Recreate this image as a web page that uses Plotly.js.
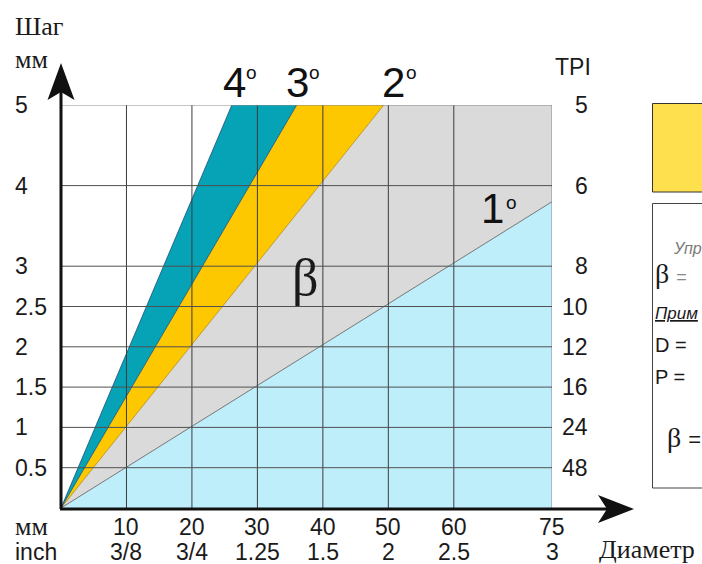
<!DOCTYPE html>
<html>
<head>
<meta charset="utf-8">
<script src="https://cdn.plot.ly/plotly-3.0.1.min.js"></script>
<style>html,body{margin:0;padding:0;background:#fff;}#chart{width:702px;height:564px;}</style>
</head>
<body>
<div id="chart"></div>
<script>
// ---- data ----
const xTicks = [10, 20, 30, 40, 50, 60, 75];            // diameter, mm
const xTickInch = ['3/8', '3/4', '1.25', '1.5', '2', '2.5', '3'];
const yTicks = [0.5, 1, 1.5, 2, 2.5, 3, 4, 5];           // pitch, mm
const tpiLabels = ['48', '24', '16', '12', '10', '8', '6', '5'];
const angleNames = ['1', '2', '3', '4'];                 // helix angle, degrees
const angleEndD = [75, 49.3, 36.0, 26.1];                // end of each angle line, mm
const angleEndP = [3.8, 5, 5, 5];                        // end of each angle line, mm
const xMax = 75, yMax = 5;

// ---- geometry helpers (plot area in px) ----
const L = 61, R = 552, T = 105, B = 508;
const W = R - L, H = B - T;
const px = p => (p - L) / W;   // pixel x -> paper
const py = p => (B - p) / H;   // pixel y -> paper

const SANS = 'Liberation Sans, Arial, sans-serif';
const SERIF = 'Liberation Serif, Times New Roman, serif';

// ---- region fills ----
const regions = [
  {name: 'blue',   color: '#bfeefb', x: [0, angleEndD[0], xMax, 0], y: [0, angleEndP[0], 0, 0]},
  {name: 'gray',   color: '#dadada', x: [0, angleEndD[0], xMax, angleEndD[1], 0], y: [0, angleEndP[0], yMax, angleEndP[1], 0]},
  {name: 'yellow', color: '#fdc800', x: [0, angleEndD[1], angleEndD[2], 0], y: [0, angleEndP[1], angleEndP[2], 0]},
  {name: 'teal',   color: '#06a3b6', x: [0, angleEndD[2], angleEndD[3], 0], y: [0, angleEndP[2], angleEndP[3], 0]}
];
const traces = regions.map(r => ({
  type: 'scatter', mode: 'lines', x: r.x, y: r.y, fill: 'toself',
  fillcolor: r.color, line: {width: 0}, hoverinfo: 'skip', showlegend: false
}));
const edgeColors = ['#5a5a5a', '#b08a20', '#1d4f7a', '#1d4f7a'];
angleNames.forEach((a, i) => {
  traces.push({type: 'scatter', mode: 'lines', x: [0, angleEndD[i]], y: [0, angleEndP[i]],
    line: {color: edgeColors[i], width: 0.8}, hoverinfo: 'skip', showlegend: false});
});

// ---- shapes: grid (above fills), axes, arrows, side panel ----
const shapes = [];
xTicks.forEach(v => shapes.push({type: 'line', layer: 'above', xref: 'x', yref: 'y',
  x0: v, x1: v, y0: 0, y1: yMax, line: {color: v === xMax ? '#8a8a8a' : '#3c3c3c', width: 1}}));
yTicks.forEach(v => shapes.push({type: 'line', layer: 'above', xref: 'x', yref: 'y',
  x0: 0, x1: xMax, y0: v, y1: v, line: {color: v === yMax ? '#8a8a8a' : '#505050', width: 1}}));
// axis lines
shapes.push({type: 'line', layer: 'above', xref: 'paper', yref: 'paper', x0: 0, x1: 0, y0: py(B + 1), y1: py(92), line: {color: '#111', width: 3}});
shapes.push({type: 'line', layer: 'above', xref: 'paper', yref: 'paper', x0: px(L - 1), x1: px(608), y0: py(B + 1), y1: py(B + 1), line: {color: '#111', width: 3}});
// arrow heads
shapes.push({type: 'path', layer: 'above', xref: 'paper', yref: 'paper', xsizemode: 'pixel', ysizemode: 'pixel',
  xanchor: 0, yanchor: py(63), path: 'M0,0 L13.5,-37 L0,-29 L-13.5,-37 Z', fillcolor: '#111', line: {width: 0}});
shapes.push({type: 'path', layer: 'above', xref: 'paper', yref: 'paper', xsizemode: 'pixel', ysizemode: 'pixel',
  xanchor: px(634), yanchor: py(B + 1), path: 'M0,0 L-36,14 L-27,0 L-36,-14 Z', fillcolor: '#111', line: {width: 0}});
// side panel boxes
shapes.push({type: 'rect', xref: 'paper', yref: 'paper', x0: px(652.5), x1: px(720), y0: py(192), y1: py(103.5),
  fillcolor: '#fee04e', line: {color: '#333', width: 1}});
shapes.push({type: 'rect', xref: 'paper', yref: 'paper', x0: px(652.5), x1: px(720), y0: py(488), y1: py(203.5),
  fillcolor: '#ffffff', line: {color: '#444', width: 1}});

// ---- annotations ----
const ann = [];
function txt(text, x, y, opts) {
  ann.push(Object.assign({text: text, x: x, y: y, xref: 'paper', yref: 'paper', showarrow: false,
    xanchor: 'center', yanchor: 'middle', font: {family: SANS, size: 23, color: '#1a1a1a'}}, opts || {}));
}
// left tick labels (pitch, mm)
yTicks.forEach(v => txt(String(v), px(13), v, {yref: 'y', xanchor: 'left'}));
// right tick labels (TPI)
yTicks.forEach((v, i) => txt(tpiLabels[i], px(590), v, {yref: 'y', xanchor: 'right'}));
// bottom tick labels
xTicks.forEach((v, i) => {
  txt(String(v), v, py(527), {xref: 'x'});
  txt(xTickInch[i], v, py(552), {xref: 'x'});
});
// axis titles
txt('Шаг', px(13), py(26), {xanchor: 'left', font: {family: SERIF, size: 26, color: '#1a1a1a'}});
txt('мм', px(13), py(59), {xanchor: 'left', font: {family: SERIF, size: 26, color: '#1a1a1a'}});
txt('мм', px(13), py(526), {xanchor: 'left', font: {family: SERIF, size: 26, color: '#1a1a1a'}});
txt('inch', px(13), py(552), {xanchor: 'left'});
txt('Диаметр', px(597), py(549), {xanchor: 'left', font: {family: SERIF, size: 26, color: '#1a1a1a'}});
txt('TPI', px(573), py(67));
// angle labels
const degPos = [[492, 208, 511, 202], [393, 82, 411, 73], [297, 82, 314, 73], [234, 82, 251, 73]];
angleNames.forEach((a, i) => {
  const p = degPos[i];
  txt(a, px(p[0]), py(p[1]), {font: {family: SANS, size: 42, color: '#111'}});
  txt('o', px(p[2]), py(p[3]), {font: {family: SANS, size: 19, color: '#111'}});
});
txt('β', px(305), py(277), {font: {family: SERIF, size: 52, color: '#1a1a1a'}});
// side panel text
txt('Упр', px(671), py(248), {xanchor: 'left', font: {family: SANS, size: 16, color: '#7a7a7a', style: 'italic'}});
txt('β <span style="font-family:Liberation Sans;font-size:18px;color:#888">=</span>', px(653), py(273),
  {xanchor: 'left', font: {family: SERIF, size: 28, color: '#1a1a1a'}});
txt('<u>Прим</u>', px(653), py(313), {xanchor: 'left', font: {family: SANS, size: 17, color: '#1a1a1a', style: 'italic'}});
txt('D =', px(653), py(345), {xanchor: 'left', font: {family: SANS, size: 20, color: '#1a1a1a'}});
txt('P =', px(653), py(377), {xanchor: 'left', font: {family: SANS, size: 20, color: '#1a1a1a'}});
txt('β <span style="font-family:Liberation Sans;font-size:22px">=</span>', px(665), py(437),
  {xanchor: 'left', font: {family: SERIF, size: 28, color: '#1a1a1a'}});

const layout = {
  width: 702, height: 564,
  margin: {l: L, r: 702 - R, t: T, b: 564 - B, pad: 0},
  paper_bgcolor: '#ffffff', plot_bgcolor: '#ffffff',
  showlegend: false,
  xaxis: {range: [0, xMax], showgrid: false, zeroline: false, showticklabels: false, ticks: '', showline: false, fixedrange: true},
  yaxis: {range: [0, yMax], showgrid: false, zeroline: false, showticklabels: false, ticks: '', showline: false, fixedrange: true},
  shapes: shapes,
  annotations: ann
};
Plotly.newPlot('chart', traces, layout, {displayModeBar: false, staticPlot: true});
</script>
</body>
</html>
